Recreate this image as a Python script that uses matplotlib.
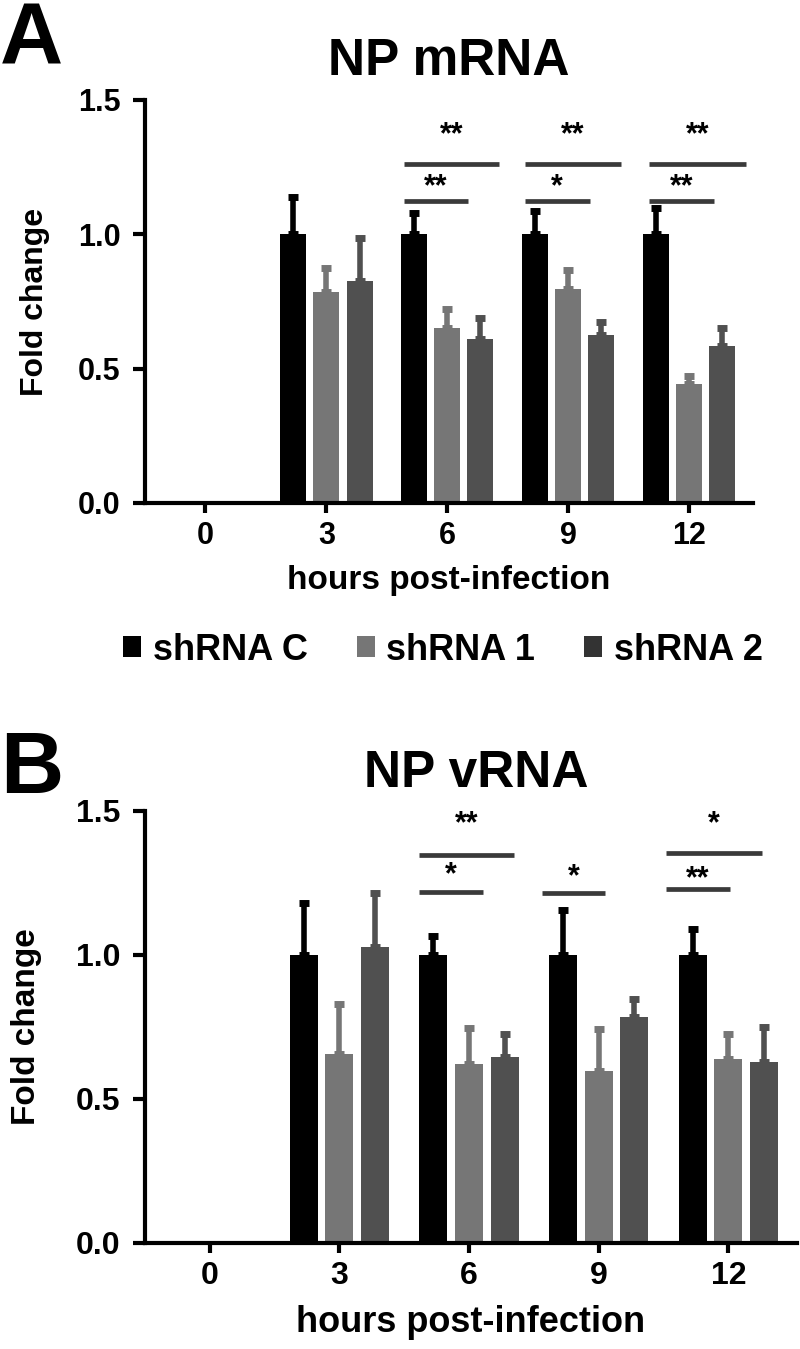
import matplotlib
matplotlib.use('Agg')
import matplotlib.pyplot as plt
from matplotlib.patches import Patch
import numpy as np

plt.rcParams['font.family'] = ['Liberation Sans', 'DejaVu Sans']
plt.rcParams['font.weight'] = 'bold'

# 데이터 (hours post-infection)
hours = ['0', '3', '6', '9', '12']
groups = ['shRNA C', 'shRNA 1', 'shRNA 2']
bar_colors = ['#000000', '#767676', '#505050']
legend_colors = ['#000000', '#767676', '#333333']

# NP mRNA
mrna_c = [0, 1.0, 1.0, 1.0, 1.0]
mrna_c_err = [np.nan, 0.14, 0.078, 0.086, 0.097]
mrna_1 = [0, 0.787, 0.653, 0.795, 0.444]
mrna_1_err = [np.nan, 0.086, 0.07, 0.071, 0.03]
mrna_2 = [0, 0.825, 0.612, 0.627, 0.586]
mrna_2_err = [np.nan, 0.16, 0.078, 0.045, 0.067]

# NP vRNA
vrna_c = [0, 1.0, 1.0, 1.0, 1.0]
vrna_c_err = [np.nan, 0.182, 0.067, 0.157, 0.092]
vrna_1 = [0, 0.657, 0.623, 0.597, 0.638]
vrna_1_err = [np.nan, 0.173, 0.125, 0.145, 0.088]
vrna_2 = [0, 1.029, 0.645, 0.784, 0.629]
vrna_2_err = [np.nan, 0.185, 0.081, 0.063, 0.122]

# 유의성 표시: (시간 index, 시작, 끝, 선 높이, 별 높이, 라벨)
mrna_sig = [
    (2, -0.36, 0.43, 1.262, 1.37, '**'), (2, -0.36, 0.17, 1.124, 1.176, '**'),
    (3, -0.36, 0.44, 1.262, 1.37, '**'), (3, -0.36, 0.18, 1.124, 1.176, '*'),
    (4, -0.33, 0.47, 1.262, 1.37, '**'), (4, -0.33, 0.21, 1.124, 1.176, '**'),
]
vrna_sig = [
    (2, -0.39, 0.35, 1.348, 1.453, '**'), (2, -0.39, 0.11, 1.22, 1.277, '*'),
    (3, -0.44, 0.05, 1.216, 1.27, '*'),
    (4, -0.48, 0.26, 1.355, 1.453, '*'), (4, -0.48, 0.01, 1.229, 1.264, '**'),
]

W, H = 800, 1349
fig = plt.figure(figsize=(W / 100, H / 100), dpi=100)


def draw_panel(ax, series, errs, sig, tick_fs, label_fs, ylab_fs):
    x = np.arange(len(hours))
    offsets = [-0.275, 0.0, 0.275]
    width = 0.215
    for vals, err, off, col in zip(series, errs, offsets, bar_colors):
        vals = np.array(vals, dtype=float)
        err = np.array(err, dtype=float)
        ax.bar(x + off, vals, width, color=col, zorder=2)
        ok = np.isfinite(err)
        ax.errorbar(x[ok] + off, vals[ok], yerr=[np.zeros(ok.sum()), err[ok]],
                    fmt='none', ecolor=col, elinewidth=4, capsize=3.8,
                    capthick=5, zorder=1)
    for i, x0, x1, yl, ys, lab in sig:
        ax.plot([i + x0, i + x1], [yl, yl], color='#3a3a3a', lw=3.4,
                solid_capstyle='butt', clip_on=False)
        ax.text(i + (x0 + x1) / 2, ys, lab, ha='center', va='center',
                fontsize=22, fontweight='bold')
    ax.set_xlim(-0.5, 4.53)
    ax.set_ylim(0, 1.5)
    ax.set_yticks([0.0, 0.5, 1.0, 1.5])
    ax.set_yticklabels(['0.0', '0.5', '1.0', '1.5'])
    ax.set_xticks(x)
    ax.set_xticklabels(hours)
    for s in ['top', 'right']:
        ax.spines[s].set_visible(False)
    for s in ['left', 'bottom']:
        ax.spines[s].set_linewidth(3)
    ax.tick_params(axis='both', width=3, labelsize=tick_fs)
    ax.tick_params(axis='y', length=8.5, pad=9)
    ax.tick_params(axis='x', length=7, pad=6)
    ax.set_ylabel('Fold change', fontsize=ylab_fs, fontweight='bold')
    ax.set_xlabel('hours post-infection', fontsize=label_fs, fontweight='bold',
                  labelpad=10)


# A: NP mRNA
axA = fig.add_axes([145 / W, 1 - 503 / H, 608 / W, 403 / H])
draw_panel(axA, [mrna_c, mrna_1, mrna_2], [mrna_c_err, mrna_1_err, mrna_2_err],
           mrna_sig, 22, 24, 23)
axA.yaxis.set_label_coords(-0.157, 0.5)
fig.text(449 / W, 1 - 75 / H, 'NP mRNA', ha='center', va='baseline',
         fontsize=37, fontweight='bold')
fig.text(0, 1 - 63 / H, 'A', ha='left', va='baseline', fontsize=63,
         fontweight='bold')

# B: NP vRNA
axB = fig.add_axes([145 / W, 1 - 1243 / H, 652 / W, 432 / H])
draw_panel(axB, [vrna_c, vrna_1, vrna_2], [vrna_c_err, vrna_1_err, vrna_2_err],
           vrna_sig, 23, 26, 24)
axB.yaxis.set_label_coords(-0.158, 0.5)
fig.text(476 / W, 1 - 787 / H, 'NP vRNA', ha='center', va='baseline',
         fontsize=37, fontweight='bold')
fig.text(0, 1 - 793 / H, 'B', ha='left', va='baseline', fontsize=63,
         fontweight='bold')

# 범례
handles = [Patch(facecolor=c, edgecolor='none') for c in legend_colors]
fig.legend(handles, groups, loc='center', bbox_to_anchor=(443 / W, 1 - 650 / H),
           ncol=3, frameon=False, handlelength=0.5, handleheight=0.5,
           handletextpad=0.33, columnspacing=1.35,
           prop={'weight': 'bold', 'size': 26})

fig.savefig('out.png', dpi=100)
